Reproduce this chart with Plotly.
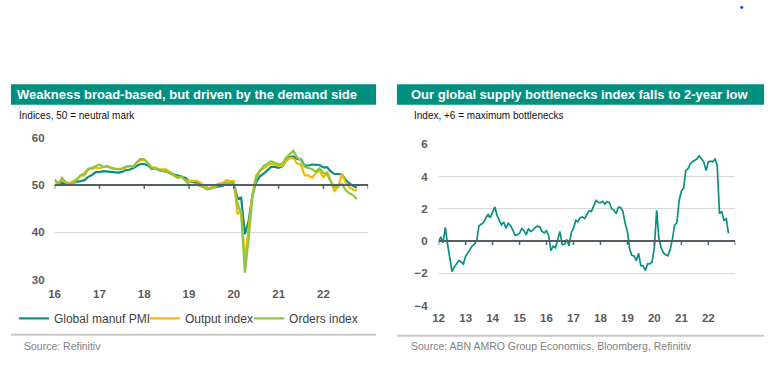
import plotly.graph_objects as go
import pandas as pd

W, H = 772, 365

# ---------------- data ----------------
pmi_start = "2016-01-01"
series_names = ["Global manuf PMI", "Output index", "Orders index"]
pmi = [50.0, 50.0, 50.5, 50.1, 50.0, 50.4, 50.7, 50.8, 51.0, 51.7, 52.1, 52.7,
       52.7, 52.9, 52.8, 52.7, 52.6, 52.6, 52.7, 53.1, 53.2, 53.5, 54.0, 54.4,
       54.4, 54.1, 53.4, 53.5, 53.1, 53.0, 52.8, 52.6, 52.2, 52.0, 51.8, 51.5,
       50.8, 50.6, 50.5, 50.4, 49.8, 49.4, 49.3, 49.5, 49.7, 49.8, 50.3, 50.1,
       50.4, 47.1, 47.3, 39.6, 42.4, 47.8, 50.6, 51.8, 52.4, 53.0, 53.8, 53.8,
       53.6, 53.9, 55.0, 55.9, 56.0, 55.5, 55.4, 54.1, 54.1, 54.3, 54.2, 54.2,
       53.7, 53.7, 52.9, 52.3, 52.3, 52.2, 51.1, 50.3, 49.8, 49.4]
output_idx = [50.8, 50.5, 51.0, 50.5, 50.4, 50.8, 51.2, 52.0, 52.0, 53.2, 53.4, 53.6,
              53.5, 53.8, 54.0, 53.7, 53.4, 53.4, 53.4, 53.7, 54.0, 53.9, 54.7, 55.2,
              55.3, 54.6, 53.7, 53.7, 53.3, 53.3, 53.3, 52.6, 52.0, 51.6, 51.6, 51.0,
              50.9, 50.8, 50.9, 50.5, 49.9, 49.3, 49.5, 49.9, 50.3, 50.4, 51.0, 50.8,
              50.8, 43.8, 44.5, 34.0, 40.5, 48.0, 52.0, 53.0, 53.5, 54.0, 54.5, 54.3,
              54.0, 54.0, 55.0, 55.7, 55.6, 54.5, 54.3, 52.0, 52.0, 51.5, 52.5, 53.0,
              51.5, 52.8, 50.8, 48.7, 49.5, 52.3, 50.5, 49.5, 49.0, 48.8]
orders_idx = [51.2, 50.0, 51.5, 50.5, 50.2, 50.3, 51.2, 52.0, 52.5, 53.4, 53.6, 53.9,
              54.3, 53.8, 53.9, 53.6, 53.4, 53.3, 53.4, 53.8, 54.0, 53.8, 54.8, 55.5,
              55.4, 54.6, 53.6, 53.5, 53.2, 53.0, 52.8, 52.4, 51.9, 51.5, 51.8, 51.0,
              50.0, 50.0, 50.1, 49.8, 49.5, 49.0, 49.2, 49.5, 50.0, 50.3, 50.5, 50.4,
              50.6, 46.0, 44.0, 31.5, 38.5, 47.5, 51.5, 53.0, 54.0, 54.5, 55.0, 54.7,
              54.3, 54.5, 55.7, 56.5, 57.2, 55.8, 55.2, 53.8, 53.6, 53.3, 52.8, 53.5,
              52.5, 52.2, 50.8, 49.5, 49.8, 50.2, 48.9, 48.2, 47.8, 47.0]
left_ticks = ["16", "17", "18", "19", "20", "21", "22"]

gsbi_start = "2012-01-01"
gsbi = [0.0, 0.25, -0.1, 0.85, -0.2, -1.0, -1.9, -1.6, -1.4, -1.22, -1.3, -1.42,
        -0.95, -0.7, -0.5, -0.3, -0.2, 0.05, 0.95, 1.05, 1.15, 1.45, 1.65, 1.45,
        1.85, 2.12, 1.6, 1.3, 1.0, 1.18, 0.8, 1.1, 0.95, 0.7, 0.35, 0.38,
        0.48, 0.78, 0.64, 0.38, 0.78, 0.58, 0.68, 0.85, 0.92, 0.88, 0.6, 0.5,
        0.64, 0.3, -0.6, -0.32, -0.42, 0.1, 0.6, -0.22, -0.2, 0.1, -0.3, 0.5,
        0.8, 1.28, 1.2, 1.45, 1.5, 1.4, 1.6, 1.88, 1.84, 2.18, 2.52, 2.4,
        2.38, 2.46, 2.3, 2.44, 2.4, 2.0, 1.92, 1.7, 2.1, 2.08, 1.84, 1.1,
        0.6, -0.5, -0.88, -0.92, -1.22, -0.76, -1.52, -1.52, -1.82, -1.42, -1.42, -1.3,
        -0.4, 1.9, 0.2, -0.4, -0.72, -0.85, -0.92, -0.55, 0.1, 0.98, 1.12, 2.5,
        3.1, 3.3, 4.38, 4.48, 4.78, 4.92, 5.0, 5.1, 5.28, 5.1, 4.9, 4.38,
        4.9, 4.95, 4.92, 5.08, 4.7, 1.7, 1.84, 1.28, 1.38, 0.48]
right_ticks = ["12", "13", "14", "15", "16", "17", "18", "19", "20", "21", "22"]

left_title = "Weakness broad-based, but driven by the demand side"
left_sub = "Indices, 50 = neutral mark"
left_src = "Source: Refinitiv"
right_title = "Our global supply bottlenecks index falls to 2-year low"
right_sub = "Index, +6 = maximum bottlenecks"
right_src = "Source: ABN AMRO Group Economics, Bloomberg, Refinitiv"

# ---------------- styling ----------------
FONT = "Liberation Sans, Arial, sans-serif"
TEAL = "#0a8f80"
YELLOW = "#f5b800"
LGREEN = "#8cc63e"
BAR = "#00907f"
AXIS = "#555d66"
GRID = "#d9d9d9"
TICKC = "#5a5a5a"


def X(px):
    return px / W


def Y(py):
    return 1 - py / H


left_dates = pd.date_range(pmi_start, periods=len(pmi), freq="MS")
right_dates = pd.date_range(gsbi_start, periods=len(gsbi), freq="MS")
left_years = [pd.Timestamp(f"20{t}-01-01") for t in left_ticks]
right_years = [pd.Timestamp(f"20{t}-01-01") for t in right_ticks]
left_end = pd.Timestamp("2023-01-01")
right_end = pd.Timestamp("2023-01-01")

fig = go.Figure()
colors = [TEAL, YELLOW, LGREEN]
legends = ["legend", "legend2", "legend3"]
for name, vals, col, lg in zip(series_names, [pmi, output_idx, orders_idx], colors, legends):
    fig.add_trace(go.Scatter(x=left_dates, y=vals, mode="lines", name=name,
                             line=dict(color=col, width=2.2), xaxis="x", yaxis="y",
                             legend=lg, showlegend=True))
fig.add_trace(go.Scatter(x=right_dates, y=gsbi, mode="lines", name="GSBI",
                         line=dict(color=TEAL, width=1.7), xaxis="x2", yaxis="y2",
                         showlegend=False))

ly_dom = [Y(283), Y(136)]
ry_dom = [Y(309.7), Y(143)]
tickfont = dict(family=FONT, size=11.5, color=TICKC, weight="bold")

fig.update_layout(
    width=W, height=H, margin=dict(l=0, r=0, t=0, b=0),
    paper_bgcolor="white", plot_bgcolor="white",
    font=dict(family=FONT),
    xaxis=dict(domain=[X(49), X(365)], anchor="y", type="date",
               range=[left_years[0], left_end], tickvals=left_years, ticktext=left_ticks,
               showgrid=False, showline=False, ticks="", zeroline=False,
               tickfont=tickfont, ticklabelstandoff=6),
    yaxis=dict(domain=ly_dom, anchor="x", range=[30, 60], tickvals=[30, 40, 50, 60],
               showgrid=True, gridcolor=GRID, gridwidth=1, zeroline=False,
               showline=False, ticks="", tickfont=tickfont, ticklabelstandoff=9),
    xaxis2=dict(domain=[X(436), X(735)], anchor="y2", type="date",
                range=[right_years[0], right_end], tickvals=right_years, ticktext=right_ticks,
                showgrid=False, showline=False, ticks="", zeroline=False,
                tickfont=tickfont, ticklabelstandoff=4),
    yaxis2=dict(domain=ry_dom, anchor="x2", range=[-4, 6], tickvals=[-4, -2, 0, 2, 4, 6],
                showgrid=True, gridcolor=GRID, gridwidth=1, zeroline=False,
                showline=False, ticks="", tickfont=tickfont, ticklabelstandoff=10),
)

leg_common = dict(orientation="h", xanchor="left", yanchor="middle",
                  bgcolor="rgba(0,0,0,0)", font=dict(family=FONT, size=12, color="#404040"),
                  itemwidth=30, tracegroupgap=0)
fig.update_layout(
    legend=dict(x=X(8), y=Y(323), **leg_common),
    legend2=dict(x=X(140), y=Y(323), **leg_common),
    legend3=dict(x=X(245), y=Y(323), **leg_common),
)

shapes = []
# title bars
shapes.append(dict(type="rect", xref="paper", yref="paper", x0=X(5), x1=X(373),
                   y0=Y(102), y1=Y(81), fillcolor=BAR, line=dict(width=0), layer="below"))
shapes.append(dict(type="rect", xref="paper", yref="paper", x0=X(394), x1=X(764),
                   y0=Y(102), y1=Y(81), fillcolor=BAR, line=dict(width=0), layer="below"))
# bottom separators
shapes.append(dict(type="line", xref="paper", yref="paper", x0=X(5), x1=X(373),
                   y0=Y(340), y1=Y(340), line=dict(color="#c8c8c8", width=2)))
shapes.append(dict(type="line", xref="paper", yref="paper", x0=X(394), x1=X(764),
                   y0=Y(341), y1=Y(341), line=dict(color="#c8c8c8", width=2)))


def val_to_paper(v, rng, dom):
    return dom[0] + (v - rng[0]) / (rng[1] - rng[0]) * (dom[1] - dom[0])


# left reference line at 50 with year ticks
py50 = val_to_paper(50, [30, 60], ly_dom)
shapes.append(dict(type="line", xref="x", yref="paper", x0=left_years[0], x1=left_end,
                   y0=py50, y1=py50, line=dict(color=AXIS, width=2)))
for d in left_years + [left_end]:
    shapes.append(dict(type="line", xref="x", yref="paper", x0=d, x1=d,
                       y0=py50, y1=py50 - 4 / H, line=dict(color=AXIS, width=1.5)))
# right zero line with year ticks
py0 = val_to_paper(0, [-4, 6], ry_dom)
shapes.append(dict(type="line", xref="x2", yref="paper", x0=right_years[0], x1=right_end,
                   y0=py0, y1=py0, line=dict(color=AXIS, width=2)))
for d in right_years + [right_end]:
    shapes.append(dict(type="line", xref="x2", yref="paper", x0=d, x1=d,
                       y0=py0, y1=py0 - 4 / H, line=dict(color=AXIS, width=1.5)))
# small blue mark at top right
shapes.append(dict(type="circle", xref="paper", yref="paper", x0=X(740), x1=X(743),
                   y0=Y(3), y1=Y(0), fillcolor="#1f3fff", line=dict(width=0)))
fig.update_layout(shapes=shapes)

ann = []
ann.append(dict(text=f"<b>{left_title}</b>", x=X(9), y=Y(92), xref="paper", yref="paper",
                xanchor="left", yanchor="middle", showarrow=False,
                font=dict(family=FONT, size=13, color="white")))
ann.append(dict(text=f"<b>{right_title}</b>", x=X(406), y=Y(92), xref="paper", yref="paper",
                xanchor="left", yanchor="middle", showarrow=False,
                font=dict(family=FONT, size=13, color="white")))
ann.append(dict(text=left_sub, x=X(11), y=Y(113), xref="paper", yref="paper",
                xanchor="left", yanchor="middle", showarrow=False,
                font=dict(family=FONT, size=10, color="#111111")))
ann.append(dict(text=right_sub, x=X(409), y=Y(113), xref="paper", yref="paper",
                xanchor="left", yanchor="middle", showarrow=False,
                font=dict(family=FONT, size=10, color="#111111")))
ann.append(dict(text=left_src, x=X(16), y=Y(352), xref="paper", yref="paper",
                xanchor="left", yanchor="middle", showarrow=False,
                font=dict(family=FONT, size=10.5, color="#808080")))
ann.append(dict(text=right_src, x=X(406), y=Y(352), xref="paper", yref="paper",
                xanchor="left", yanchor="middle", showarrow=False,
                font=dict(family=FONT, size=10.5, color="#808080")))
fig.update_layout(annotations=ann)

fig.write_html("out.html", config={"displayModeBar": False},
               post_script="document.body.style.margin='0';document.body.style.overflow='hidden';")
